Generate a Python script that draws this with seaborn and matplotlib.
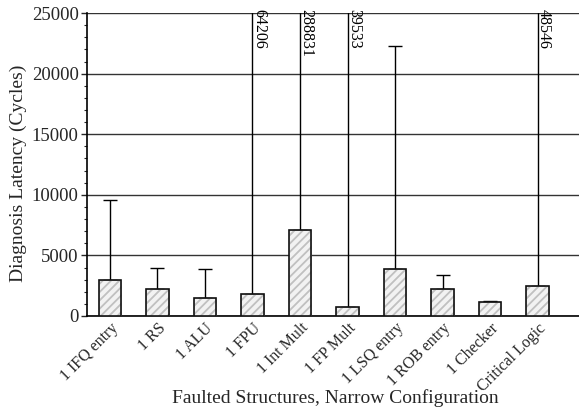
import matplotlib
matplotlib.use("Agg")
import matplotlib.pyplot as plt
import seaborn as sns
import numpy as np
import pandas as pd

categories = ["1 IFQ entry", "1 RS", "1 ALU", "1 FPU", "1 Int Mult", "1 FP Mult",
              "1 LSQ entry", "1 ROB entry", "1 Checker", "Critical Logic"]
mean_latency = [2970, 2250, 1510, 1840, 7070, 740, 3850, 2250, 1130, 2475]
max_latency = [9600, 3990, 3880, 64206, 288831, 39533, 22300, 3380, 1260, 48546]
y_ticks = [0, 5000, 10000, 15000, 20000, 25000]

sns.set_theme(style="white")
plt.rcParams['font.family'] = ['Liberation Serif', 'DejaVu Serif']
plt.rcParams['hatch.linewidth'] = 1.3

df = pd.DataFrame({"Structure": categories, "Latency": mean_latency})

fig = plt.figure(figsize=(5.79, 4.08), dpi=100)
ax = fig.add_axes([0.150, 0.2255, 0.850, 0.7425])

# hatched fill layer (hatch takes edge colour)
sns.barplot(data=df, x="Structure", y="Latency", ax=ax, color="#f2f2f2",
            edgecolor="#c0c0c0", linewidth=0.5, width=0.47, errorbar=None,
            hatch="////", zorder=3, saturation=1)
# black outline layer
sns.barplot(data=df, x="Structure", y="Latency", ax=ax, fill=False,
            edgecolor="#111111", linewidth=1.2, width=0.47, errorbar=None,
            zorder=4)

x = np.arange(len(categories))
lower = np.zeros(len(categories))
upper = np.array(max_latency) - np.array(mean_latency)
ax.errorbar(x, mean_latency, yerr=[lower, upper], fmt="none", ecolor="black",
            elinewidth=1.0, capsize=5, capthick=1.0, zorder=2)

ymax = 25000
for xi, v in zip(x, max_latency):
    if v > ymax:
        ax.text(xi - 0.03, ymax + 300, str(v), rotation=270, ha="left", va="top",
                fontsize=11.5, color="black", zorder=5)

ax.set_ylim(0, ymax)
ax.set_xlim(-0.484, 9.87)
ax.set_yticks(y_ticks)
ax.set_yticks(np.arange(0, 25001, 1000), minor=True)
ax.yaxis.grid(True, which="major", color="#333333", linewidth=1.0, zorder=0)
ax.set_axisbelow(True)
ax.tick_params(axis="y", which="major", direction="out", length=4, width=1,
               labelsize=13.5, left=True, pad=2)
ax.tick_params(axis="y", which="minor", direction="out", length=2, width=0.8, left=True)
ax.tick_params(axis="x", which="both", bottom=False, labelsize=11.5, pad=-3)
plt.setp(ax.get_xticklabels(), rotation=45, ha="right", rotation_mode="anchor")

for s in ["top", "right"]:
    ax.spines[s].set_visible(False)
for s in ["left", "bottom"]:
    ax.spines[s].set_color("black")
    ax.spines[s].set_linewidth(1.2)

ax.set_xlabel("Faulted Structures, Narrow Configuration", fontsize=14)
ax.xaxis.set_label_coords(0.504, -0.240)
ax.set_ylabel("Diagnosis Latency (Cycles)", fontsize=14)
ax.yaxis.set_label_coords(-0.122, 0.472)

fig.savefig("out.png", dpi=100)
